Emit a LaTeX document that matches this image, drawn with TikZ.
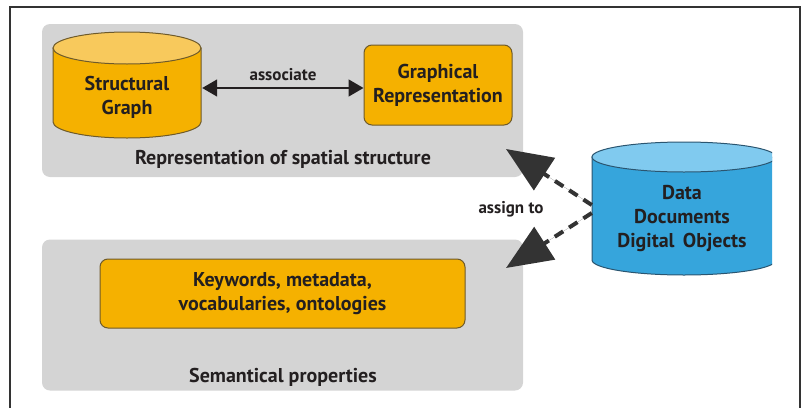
\documentclass[tikz,border=0pt]{standalone}
\usepackage{fontspec}
\setmainfont{PT Sans}
\usetikzlibrary{arrows.meta}
\definecolor{panelgray}{HTML}{D4D4D4}
\definecolor{orfill}{HTML}{F5B100}
\definecolor{ortop}{HTML}{F8C95C}
\definecolor{orline}{HTML}{6E5A2A}
\definecolor{blfill}{HTML}{36A5DC}
\definecolor{bltop}{HTML}{80CAEF}
\definecolor{blline}{HTML}{2A5570}
\definecolor{ink}{HTML}{231F20}
\definecolor{arr}{HTML}{333333}
\tikzset{
  panel/.style={fill=panelgray, rounded corners=8pt, minimum width=481pt, minimum height=153pt, inner sep=0pt},
  obox/.style={fill=orfill, draw=orline, line width=1pt, rounded corners=8pt, inner sep=0pt, align=center, font=\bfseries\fontsize{20}{24}\selectfont, text=ink},
  lbl/.style={font=\bfseries\fontsize{20}{24}\selectfont, text=ink},
  small/.style={font=\bfseries\fontsize{17}{20}\selectfont, text=ink},
  ctext/.style={align=center, font=\bfseries\fontsize{20}{24}\selectfont, text=ink, inner sep=0pt},
  dasharrow/.style={draw=arr, line width=4pt, dash pattern=on 10pt off 7pt, -{Triangle[length=46pt,width=38pt]}, fill=arr},
}
\begin{document}
\begin{tikzpicture}[x=1pt,y=-1pt]
\useasboundingbox (0,0) rectangle (811,407);
% frame
\draw[line width=2pt, draw=arr] (10,420) -- (10,7) -- (800,7) -- (800,420);
% panels
\node[panel] (top) at (282.5,100.5) {};
\node[panel, minimum height=151pt] (bottom) at (282.5,315) {};
% structural graph cylinder
\path[fill=orfill, draw=orline, line width=1pt] (53,48) -- (53,122)
  arc[start angle=180, end angle=360, x radius=74pt, y radius=16pt] -- (201,48) -- cycle;
\draw[fill=ortop, draw=orline, line width=1pt] (127,48) ellipse[x radius=74pt, y radius=16pt];
\node[ctext, minimum width=148pt, minimum height=60pt] (sg) at (127,97) {Structural\\Graph};
% graphical representation
\node[obox, minimum width=148pt, minimum height=80pt] (gr) at (438,85) {Graphical\\Representation};
% associate arrow
\draw[draw=ink, line width=1.6pt, {Triangle[length=15pt,width=17pt]}-{Triangle[length=15pt,width=17pt]}] (sg.east) ++(1pt,9pt) coordinate (a1) -- (a1 -| gr.west);
\node[small] (assoc) at (283,75) {associate};
\node[lbl] (toplbl) at (283,159) {Representation of spatial structure};
% keywords box
\node[obox, minimum width=365pt, minimum height=69pt] (kw) at (282.5,293.5) {Keywords, metadata,\\vocabularies, ontologies};
\node[lbl] (botlbl) at (283,377) {Semantical properties};
% data cylinder
\begin{scope}
\clip (0,0) rectangle (772,407);
\path[fill=blfill, draw=blline, line width=1pt] (592,157) -- (592,260)
  arc[start angle=180, end angle=360, x radius=92pt, y radius=15pt] -- (776,157) -- cycle;
\draw[fill=bltop, draw=blline, line width=1pt] (684,157) ellipse[x radius=92pt, y radius=15pt];
\end{scope}
\node[ctext, minimum width=180pt, minimum height=90pt] (data) at (682,219) {Data\\Documents\\Digital\, Objects};
% assign arrows
\coordinate (t1) at (506,149);
\coordinate (t2) at (506,268);
\coordinate (s1) at (data.west |- 0,205);
\coordinate (s2) at (data.west |- 0,213);
\draw[dasharrow] (s1) -- (t1);
\draw[dasharrow] (s2) -- (t2);
\node[small] (assign) at (511,209) {assign to};
\end{tikzpicture}
\end{document}
